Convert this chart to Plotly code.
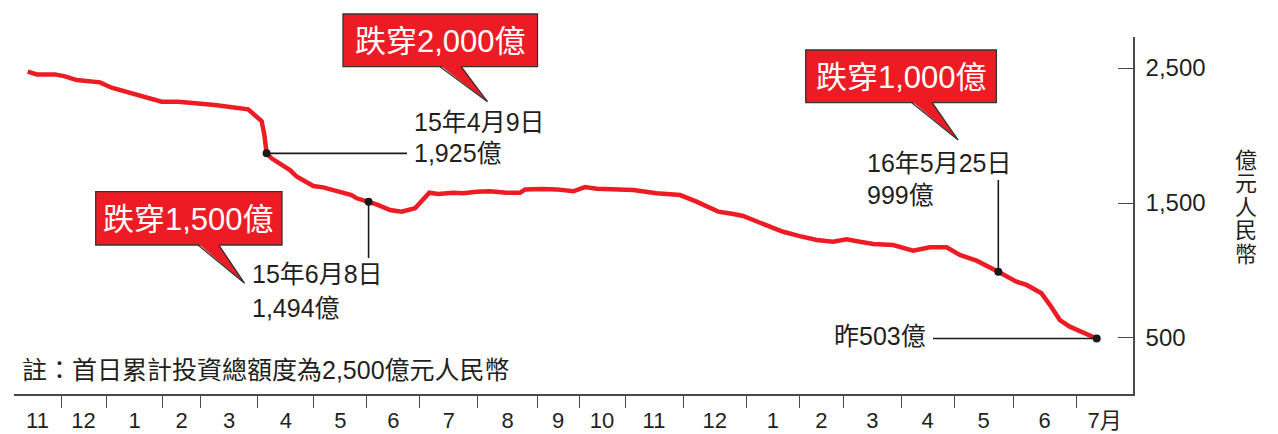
import plotly.graph_objects as go
from itertools import accumulate

# ---------------- data ----------------
month_labels = ["11", "12", "1", "2", "3", "4", "5", "6", "7", "8", "9", "10",
                "11", "12", "1", "2", "3", "4", "5", "6", "7月"]
# width of each month on the axis (trading days)
month_days = [17.1, 16.4, 20.7, 13.6, 20.9, 20.4, 19.3, 19.3, 21.1, 21.5, 15.3,
              16.7, 21.1, 23.1, 19.1, 16.2, 20.9, 19.3, 21.5, 22.9, 20.7]

# position along the axis (trading days from the left edge) and remaining quota (億元)
day_x = [5.0, 8.3, 14.9, 18.6, 22.8, 31.3, 35.5, 44.0, 53.7, 59.8, 73.1, 85.2,
         90.1, 91.1, 91.9, 93.7, 96.1, 100.4, 102.8, 105.9, 108.9, 112.5, 118.6,
         122.8, 124.7, 129.0, 131.9, 136.8, 141.0, 145.9, 148.3, 151.1, 154.3,
         159.8, 163.4, 168.3, 173.2, 179.2, 184.1, 185.9, 192.5, 197.4, 203.5,
         207.7, 212.0, 216.8, 225.3, 233.8, 242.3, 248.3, 256.2, 261.7, 265.3,
         271.4, 279.8, 285.9, 292.0, 298.0, 302.9, 307.7, 312.6, 319.9, 327.1,
         333.2, 339.3, 344.1, 350.2, 358.1, 364.7, 368.4, 373.8, 376.9, 380.5,
         384.1, 393.9]
quota = [2473, 2453, 2453, 2438, 2411, 2394, 2354, 2305, 2250, 2250, 2226, 2194,
         2107, 2004, 1868, 1831, 1801, 1744, 1696, 1663, 1626, 1616, 1584, 1559,
         1535, 1510, 1490, 1448, 1436, 1461, 1510, 1576, 1567, 1576, 1572, 1584,
         1587, 1576, 1576, 1601, 1604, 1601, 1587, 1618, 1606, 1601, 1596, 1572,
         1559, 1510, 1436, 1418, 1404, 1354, 1287, 1255, 1226, 1213, 1231, 1213,
         1196, 1189, 1147, 1172, 1172, 1115, 1073, 991, 917, 893, 831, 744, 633,
         584, 496]
marked_idx = [14, 25, 67, 74]

callout_texts = ["跌穿2,000億", "跌穿1,500億", "跌穿1,000億"]
note_text = "註：首日累計投資總額度為2,500億元人民幣"
unit_text = "億元人民幣"
ytick_vals = [500, 1500, 2500]
ytick_text = ["500", "1,500", "2,500"]

# ---------------- geometry / style ----------------
W, H = 1278, 434
L, R, T, B = 14, 145, 37, 40
PW, PH = W - L - R, H - T - B
XR = [0, sum(month_days)]
YR = [85, 2730]
RED = "#ED1C24"
INK = "#231f20"
AX = "#4a4a4a"
FONT = "Liberation Sans, Arial, Noto Sans CJK TC, sans-serif"

edges = [0] + list(accumulate(month_days))
mids = [(a + b) / 2 for a, b in zip(edges[:-1], edges[1:])]


def px(x):  # pixel -> paper
    return (x - L) / PW


def py(y):
    return (H - B - y) / PH


def dx(v):  # data -> paper
    return (v - XR[0]) / (XR[1] - XR[0])


def dy(v):
    return (v - YR[0]) / (YR[1] - YR[0])


fig = go.Figure()
fig.add_trace(go.Scatter(x=day_x, y=quota, mode="lines",
                         line=dict(color=RED, width=4.5), hoverinfo="skip",
                         showlegend=False))

shapes = []
annotations = []

# leader lines from the marked points
leaders = [("h", px(407)), ("v", py(258)), ("v", py(180)), ("h", px(933))]
for i, (kind, end) in zip(marked_idx, leaders):
    x0, y0 = dx(day_x[i]), dy(quota[i])
    if kind == "h":
        shapes.append(dict(type="line", xref="paper", yref="paper", x0=x0, y0=y0,
                           x1=end, y1=y0, line=dict(color="#1a1a1a", width=1.6)))
    else:
        shapes.append(dict(type="line", xref="paper", yref="paper", x0=x0, y0=y0,
                           x1=x0, y1=end, line=dict(color="#1a1a1a", width=1.6)))

fig.add_trace(go.Scatter(x=[day_x[i] for i in marked_idx],
                         y=[quota[i] for i in marked_idx], mode="markers",
                         marker=dict(size=8, color="#1a1a1a"), hoverinfo="skip",
                         showlegend=False))

# callout boxes: (box x0, x1, y0, y1), tail (base x0, base x1, tip x, tip y)
boxes = [((343, 537.5, 14, 66.7), (440, 461, 487.5, 101.7)),
         ((95.7, 282, 191.7, 245), (198, 218.6, 244.6, 283.3)),
         ((805.7, 996.4, 50, 102.7), (911.8, 932, 958.2, 140))]
for text, (bx, tl) in zip(callout_texts, boxes):
    x0, x1, y0, y1 = bx
    shapes.append(dict(type="rect", xref="paper", yref="paper",
                       x0=px(x0), x1=px(x1), y0=py(y0), y1=py(y1),
                       fillcolor=RED, line=dict(color="#333333", width=1.3)))
    b0, b1, tx, ty = tl
    shapes.append(dict(type="path", xref="paper", yref="paper",
                       path=f"M {px(b0)},{py(y1 - 1.5)} L {px(tx)},{py(ty)} L {px(b1)},{py(y1 - 1.5)} Z",
                       fillcolor=RED, line=dict(width=0)))
    shapes.append(dict(type="path", xref="paper", yref="paper",
                       path=f"M {px(b0)},{py(y1)} L {px(tx)},{py(ty)} L {px(b1)},{py(y1)}",
                       fillcolor="rgba(0,0,0,0)", line=dict(color="#333333", width=1.3)))
    annotations.append(dict(xref="paper", yref="paper", x=px((x0 + x1) / 2),
                            y=py((y0 + y1) / 2 + 1), text=text, showarrow=False,
                            font=dict(size=31, color="white", family=FONT),
                            xanchor="center", yanchor="middle"))

labels = [("15年4月9日", 412, 121.7, "left"), ("1,925億", 412, 153, "left"),
          ("15年6月8日", 250, 274.3, "left"), ("1,494億", 250, 308.3, "left"),
          ("16年5月25日", 865, 163.3, "left"), ("999億", 865, 195, "left"),
          ("昨503億", 928, 336, "right"), (note_text, 20, 370, "left")]
for text, x, y, anc in labels:
    annotations.append(dict(xref="paper", yref="paper", x=px(x), y=py(y), text=text,
                            showarrow=False, xanchor=anc, yanchor="middle",
                            font=dict(size=25, color=INK, family=FONT)))

# vertical unit title
for k, ch in enumerate(unit_text):
    annotations.append(dict(xref="paper", yref="paper", x=px(1246), y=py(160 + 23.5 * k),
                            text=ch, showarrow=False, xanchor="center", yanchor="middle",
                            font=dict(size=22, color=INK, family=FONT)))

fig.update_layout(
    template="none",
    width=W, height=H,
    margin=dict(l=L, r=R, t=T, b=B, pad=0, autoexpand=False),
    paper_bgcolor="white", plot_bgcolor="white",
    font=dict(family=FONT, color=INK),
    shapes=shapes, annotations=annotations,
    xaxis=dict(range=XR, showline=True, linecolor=AX, linewidth=1.5, automargin=False,
               tickmode="array", tickvals=mids, ticktext=month_labels, ticks="",
               showgrid=False, zeroline=False, fixedrange=True,
               tickfont=dict(size=22, color=INK, family=FONT), ticklabelstandoff=6,
               minor=dict(tickmode="array", tickvals=edges[1:-1], ticks="outside",
                          ticklen=12, tickcolor=AX, tickwidth=1.2, showgrid=False)),
    yaxis=dict(range=YR, side="right", showline=True, linecolor=AX, linewidth=1.5,
               automargin=False,
               tickmode="array", tickvals=ytick_vals, ticktext=ytick_text,
               ticks="inside", ticklen=15, tickcolor=AX, tickwidth=1.2,
               showgrid=False, zeroline=False, fixedrange=True,
               tickfont=dict(size=24, color=INK, family=FONT), ticklabelstandoff=6),
)

fig.write_html("out.html", config={"displayModeBar": False},
               post_script="document.body.style.margin='0';")
